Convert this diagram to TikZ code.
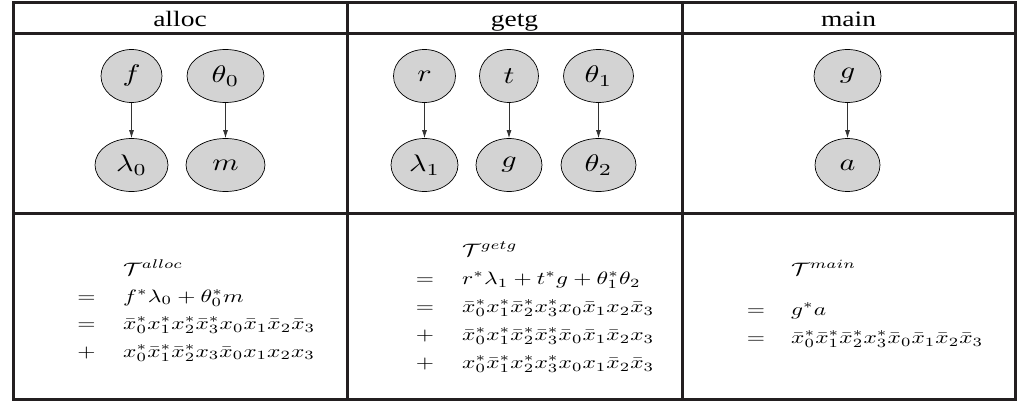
\documentclass[tikz,border=0pt]{standalone}
\usepackage{fontspec}
\setmainfont{Liberation Serif}
\usepackage{graphicx}
\usetikzlibrary{shapes.geometric,arrows.meta}
\definecolor{nodefill}{HTML}{D3D3D3}
\definecolor{rulecol}{HTML}{231F20}
\newcommand{\hs}[1]{\scalebox{1.25}[1]{#1}}
\newcommand{\mth}[1]{\scalebox{2.34}[1.8]{$#1$}}
\newcommand{\lbl}[1]{\scalebox{3.0}[2.4]{$#1$}}
\tikzset{
  rulel/.style={line width=3pt, draw=rulecol},
  gnode/.style={ellipse, draw=black, line width=0.7pt, fill=nodefill, minimum height=53pt, inner sep=0pt},
  edge/.style={-{Latex[length=8pt,width=5pt]}, line width=0.8pt, draw=black!80},
  hdr/.style={font=\fontsize{22}{26}\selectfont, anchor=base, inner sep=0pt},
  rel/.style={anchor=base, inner sep=0pt},
  rhs/.style={anchor=base west, inner sep=0pt}
}
\begin{document}
\begin{tikzpicture}[x=1pt,y=-1pt]
\useasboundingbox (0,0) rectangle (1030,401);
% table
\draw[rulel] (13.5,3) rectangle (1015,399);
\draw[rulel] (13.5,34) -- (1015,34);
\draw[rulel] (13.5,213) -- (1015,213);
\draw[rulel] (347,3) -- (347,399);
\draw[rulel] (682,3) -- (682,399);
% headers
\node[hdr] (halloc) at (180,27) {\hs{alloc}};
\node[hdr] (hgetg) at (514.5,27) {\hs{getg}};
\node[hdr] (hmain) at (848.5,27) {\hs{main}};
% alloc graph
\node[gnode, minimum width=61pt] (f) at (131.5,76) {\lbl{f}};
\node[gnode, minimum width=77pt] (th0) at (225.5,76) {\lbl{\theta_0}};
\node[gnode, minimum width=73pt] (l0) at (131.5,165) {\lbl{\lambda_0}};
\node[gnode, minimum width=79pt] (m) at (225.5,165) {\lbl{m}};
\draw[edge] (f) -- (l0);
\draw[edge] (th0) -- (m);
% getg graph
\node[gnode, minimum width=62pt] (r) at (424.5,76) {\lbl{r}};
\node[gnode, minimum width=59pt] (t) at (509,76) {\lbl{t}};
\node[gnode, minimum width=70pt] (th1) at (598.5,76) {\lbl{\theta_1}};
\node[gnode, minimum width=67pt] (l1) at (424.5,165) {\lbl{\lambda_1}};
\node[gnode, minimum width=66pt] (g1) at (509,165) {\lbl{g}};
\node[gnode, minimum width=75pt] (th2) at (598.5,165) {\lbl{\theta_2}};
\draw[edge] (r) -- (l1);
\draw[edge] (t) -- (g1);
\draw[edge] (th1) -- (th2);
% main graph
\node[gnode, minimum width=67pt] (g2) at (847.5,76) {\lbl{g}};
\node[gnode, minimum width=65pt] (a) at (847.5,165) {\lbl{a}};
\draw[edge] (g2) -- (a);
% alloc formulas
\node[rhs] (at0) at (123,275) {\mth{\mathcal{T}^{alloc}}};
\node[rel] (ar1) at (86.5,302) {\mth{=}};
\node[rhs] (at1) at (123,302) {\mth{f^*\lambda_0+\theta_0^*m}};
\node[rel] (ar2) at (86.5,329.5) {\mth{=}};
\node[rhs] (at2) at (123,329.5) {\mth{\bar{x}_0^*x_1^*x_2^*\bar{x}_3^*x_0\bar{x}_1\bar{x}_2\bar{x}_3}};
\node[rel] (ar3) at (86.5,357) {\mth{+}};
\node[rhs] (at3) at (123,357) {\mth{x_0^*\bar{x}_1^*\bar{x}_2^*x_3\bar{x}_0x_1x_2x_3}};
% getg formulas
\node[rhs] (gt0) at (462,256.5) {\mth{\mathcal{T}^{getg}}};
\node[rel] (gr1) at (425,284.5) {\mth{=}};
\node[rhs] (gt1) at (462,284.5) {\mth{r^*\lambda_1+t^*g+\theta_1^*\theta_2}};
\node[rel] (gr2) at (425,312.5) {\mth{=}};
\node[rhs] (gt2) at (462,312.5) {\mth{\bar{x}_0^*x_1^*\bar{x}_2^*x_3^*x_0\bar{x}_1x_2\bar{x}_3}};
\node[rel] (gr3) at (425,340.5) {\mth{+}};
\node[rhs] (gt3) at (462,340.5) {\mth{\bar{x}_0^*x_1^*\bar{x}_2^*\bar{x}_3^*\bar{x}_0\bar{x}_1\bar{x}_2x_3}};
\node[rel] (gr4) at (425,368.5) {\mth{+}};
\node[rhs] (gt4) at (462,368.5) {\mth{x_0^*\bar{x}_1^*x_2^*x_3^*x_0x_1\bar{x}_2\bar{x}_3}};
% main formulas
\node[rhs] (mt0) at (791,275.5) {\mth{\mathcal{T}^{main}}};
\node[rel] (mr1) at (756,315) {\mth{=}};
\node[rhs] (mt1) at (791,315) {\mth{g^*a}};
\node[rel] (mr2) at (756,343.5) {\mth{=}};
\node[rhs] (mt2) at (791,343.5) {\mth{\bar{x}_0^*\bar{x}_1^*\bar{x}_2^*x_3^*\bar{x}_0\bar{x}_1\bar{x}_2\bar{x}_3}};
\end{tikzpicture}
\end{document}
